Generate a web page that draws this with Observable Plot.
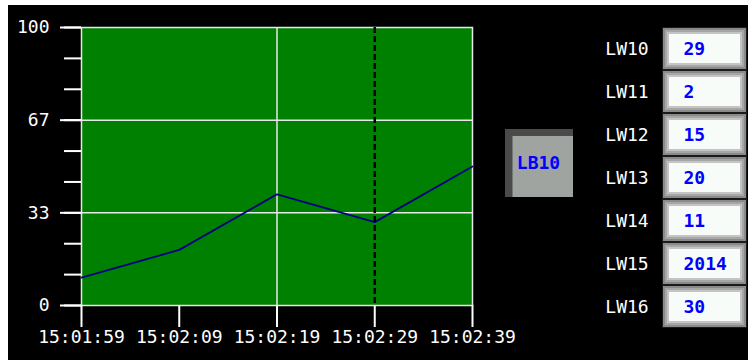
<!DOCTYPE html>
<html><head><meta charset="utf-8">
<script src="https://cdn.jsdelivr.net/npm/d3@7"></script>
<script src="https://cdn.jsdelivr.net/npm/@observablehq/plot@0.6"></script>
<style>
html,body{margin:0;padding:0;background:#fff;width:750px;height:360px;overflow:hidden;}
#screen{position:absolute;left:8px;top:5px;width:740px;height:355px;background:#000;}
.abs{position:absolute;}
</style></head><body>
<div id="screen"></div>
<div id="chart" class="abs" style="left:8px;top:5px"></div>
<div id="panel" class="abs" style="left:580px;top:0px"></div>
<div id="button" class="abs" style="left:505px;top:129px"></div>
<script>
// ---- data ----
const dateStr = "2014-11-20";
const timeLabels = ["15:01:59", "15:02:09", "15:02:19", "15:02:29", "15:02:39"];
const values = [10, 20, 40, 30, 50];
const cursorLabel = "15:02:29";
const gridXLabel = "15:02:19";
const yMajorTicks = [0, 33.333, 66.667, 100];
const yTickLabels = ["0", "33", "67", "100"];
const yGridTicks = [33.333, 66.667];
const yMinorTicks = [0, 11.111, 22.222, 33.333, 44.444, 55.556, 66.667, 77.778, 88.889, 100];
const rowNames = ["LW10", "LW11", "LW12", "LW13", "LW14", "LW15", "LW16"];
const rowValues = ["29", "2", "15", "20", "11", "2014", "30"];
const buttonLabel = "LB10";

const font = "'DejaVu Sans Mono', monospace";
const parseT = d3.utcParse("%Y-%m-%d %H:%M:%S");
const times = timeLabels.map(t => parseT(dateStr + " " + t));
const series = times.map((t, i) => ({t, v: values[i]}));
const cursorTime = parseT(dateStr + " " + cursorLabel);
const gridTime = parseT(dateStr + " " + gridXLabel);

// ---- chart ----
const chart = Plot.plot({
  width: 740, height: 355,
  marginLeft: 73, marginRight: 276, marginTop: 22, marginBottom: 55,
  style: {background: "transparent", color: "white", fontFamily: font, fontSize: "18px"},
  x: {type: "utc", domain: [times[0], times[times.length - 1]]},
  y: {domain: [0, 100]},
  marks: [
    Plot.frame({fill: "#008000", stroke: "none"}),
    Plot.gridX([gridTime], {stroke: "#e8e8e8", strokeOpacity: 1, strokeWidth: 1.5}),
    Plot.gridY(yGridTicks, {stroke: "#e8e8e8", strokeOpacity: 1, strokeWidth: 1.5}),
    Plot.frame({stroke: "#e8e8e8", strokeWidth: 1.5}),
    Plot.line(series, {x: "t", y: "v", stroke: "#000080", strokeWidth: 1.8}),
    Plot.ruleX([cursorTime], {stroke: "black", strokeWidth: 2.5, strokeDasharray: "6,3"}),
    Plot.axisY(yMinorTicks, {tickSize: 17, tickFormat: () => "", strokeWidth: 2, label: null}),
    Plot.axisY(yMajorTicks, {tickSize: 21, tickPadding: 11, strokeWidth: 2, label: null,
      tickFormat: d => yTickLabels[yMajorTicks.indexOf(d)]}),
    Plot.axisX(times, {tickSize: 22, tickPadding: 3, strokeWidth: 2, label: null,
      tickFormat: d3.utcFormat("%H:%M:%S")})
  ]
});
document.getElementById("chart").appendChild(chart);

// ---- right panel ----
const rows = rowNames.map((name, i) => ({name, value: rowValues[i]}));
const boxX = () => "value";
const panel = Plot.plot({
  width: 170, height: 360, margin: 0,
  style: {background: "transparent", color: "white", fontFamily: font, fontSize: "18px"},
  x: {type: "band", domain: ["name", "value"], range: [-3, 167], padding: 0, axis: null},
  y: {type: "band", domain: rowNames, range: [25.7, 329], padding: 0, axis: null},
  marks: [
    Plot.cell(rows, {x: boxX, y: "name", fill: "#1a1a1a"}),
    Plot.cell(rows, {x: boxX, y: "name", fill: "#8a8a8a", inset: 1}),
    Plot.cell(rows, {x: boxX, y: "name", fill: "#a6a6a6", inset: 3}),
    Plot.cell(rows, {x: boxX, y: "name", fill: "#c4c4c4", inset: 5}),
    Plot.cell(rows, {x: boxX, y: "name", fill: "#f8fcf8", inset: 7}),
    Plot.text(rows, {x: () => "name", y: "name", text: "name", fill: "white", dx: 7}),
    Plot.text(rows, {x: boxX, y: "name", text: "value", fill: "#0000ff", fontWeight: "bold",
      textAnchor: "start", dx: -21.5})
  ]
});
document.getElementById("panel").appendChild(panel);

// ---- button ----
const btn = Plot.plot({
  width: 68, height: 68, margin: 0,
  style: {background: "transparent", fontFamily: font, fontSize: "18px"},
  x: {type: "band", domain: [buttonLabel], padding: 0, axis: null},
  y: {type: "band", domain: [buttonLabel], padding: 0, axis: null},
  marks: [
    Plot.cell([buttonLabel], {x: d => d, y: d => d, fill: "#4a4a4a"}),
    Plot.cell([buttonLabel], {x: d => d, y: d => d, fill: "#a0a4a0", insetLeft: 7.5, insetTop: 7}),
    Plot.text([buttonLabel], {x: d => d, y: d => d, text: d => d, fill: "#0000ff", fontWeight: "bold", dx: -1})
  ]
});
document.getElementById("button").appendChild(btn);
</script>
</body></html>
